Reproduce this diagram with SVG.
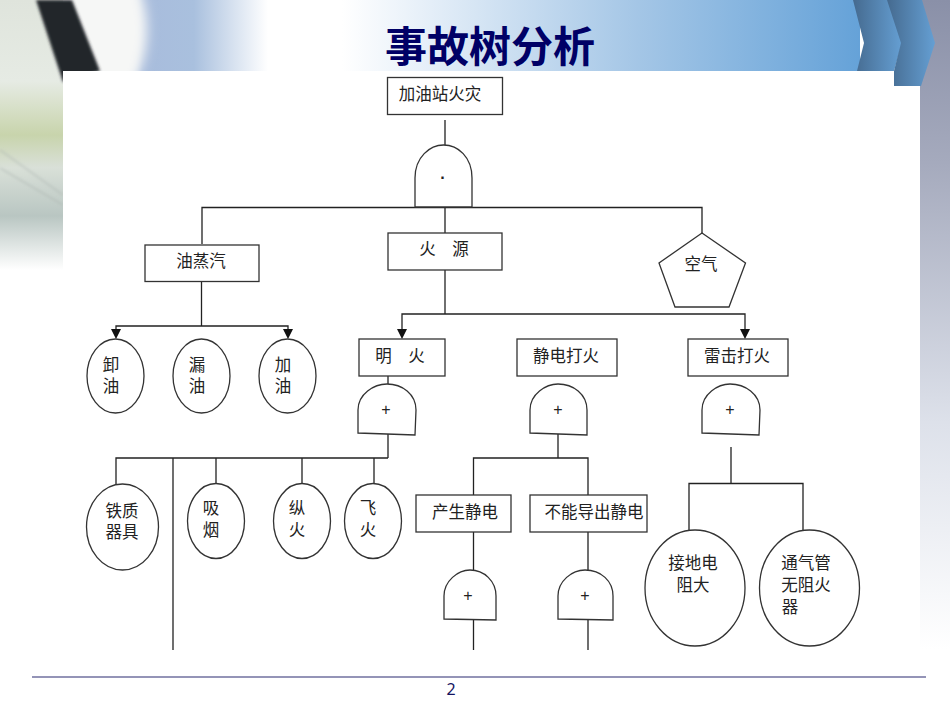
<svg xmlns="http://www.w3.org/2000/svg" width="950" height="713" viewBox="0 0 950 713">
<defs>
<linearGradient id="hdr" gradientUnits="userSpaceOnUse" x1="120" x2="860" y1="0" y2="0"><stop offset="0" stop-color="#f4f6f8"/><stop offset=".03" stop-color="#a8bcdc"/><stop offset=".1" stop-color="#a9c0de"/><stop offset=".2" stop-color="#fff"/><stop offset=".3" stop-color="#fff"/><stop offset=".42" stop-color="#e4eef8"/><stop offset=".7" stop-color="#a4c6e6"/><stop offset="1" stop-color="#65a2d8"/></linearGradient>
<linearGradient id="chev" x1="0" x2="1" y1="0" y2="0"><stop offset="0" stop-color="#456a8f"/><stop offset="1" stop-color="#659fd3"/></linearGradient>
<linearGradient id="side" x1="0" x2="0" y1="0" y2="1"><stop offset="0" stop-color="#8a90a8"/><stop offset=".25" stop-color="#a5aabd"/><stop offset=".65" stop-color="#dde1ea"/><stop offset="1" stop-color="#fff"/></linearGradient>
<linearGradient id="left" x1="0" x2="0" y1="0" y2="1"><stop offset="0" stop-color="#dfe4dc"/><stop offset=".3" stop-color="#e6ebe4"/><stop offset=".5" stop-color="#c8d4ac"/><stop offset=".62" stop-color="#d9e0d8"/><stop offset=".8" stop-color="#b9c6c2"/><stop offset="1" stop-color="#ffffff"/></linearGradient>
<filter id="soft" x="-20%" y="-20%" width="140%" height="140%"><feGaussianBlur stdDeviation="6"/></filter>
<filter id="soft2" x="-20%" y="-20%" width="140%" height="140%"><feGaussianBlur stdDeviation="1.500"/></filter>
<clipPath id="photo"><path d="M0 0H300V71H63V270H0Z"/></clipPath>
</defs>
<style>
.n{fill:#fff;stroke:#333;stroke-width:1.3}
.l{fill:none;stroke:#222;stroke-width:1.3}
.h{fill:#111}
.t{font-family:"Noto Sans CJK SC","Liberation Sans",sans-serif;font-size:16.500px;fill:#222;text-anchor:middle}
.s{font-family:"Liberation Sans",sans-serif;font-size:16px;fill:#222;text-anchor:middle}
</style>
<rect width="950" height="713" fill="#fff"/>
<g id="background">
<rect x="120" y="0" width="740" height="71" fill="url(#hdr)"/>
<g clip-path="url(#photo)">
<rect x="0" y="0" width="63" height="270" fill="url(#left)"/>
<ellipse cx="105" cy="30" rx="42" ry="70" fill="#f6f7f6" filter="url(#soft)"/>
<path d="M36 0H72L100 71L63 82Z" fill="#23262c" filter="url(#soft2)"/>
<path d="M0 150L63 195M0 168L63 205" stroke="#a9b2ae" fill="none" filter="url(#soft2)"/>
</g>
<rect x="920" y="0" width="30" height="650" fill="url(#side)"/>
<path d="M853 0H890L902 43L894 71H857L864 43Z" fill="url(#chev)"/>
<path d="M887 0H922L935 43L921 86H894V71L901 43Z" fill="url(#chev)"/>
<line x1="32" y1="677" x2="926" y2="677" stroke="#2a2a70" stroke-width="1.2"/>
<text x="451" y="695" font-family="'Noto Sans','Liberation Sans',sans-serif" font-size="16" fill="#14145f" text-anchor="middle">2</text>
<text x="490" y="62" font-family="'Noto Sans CJK SC','Liberation Sans',sans-serif" font-size="42" font-weight="700" fill="#000066" text-anchor="middle">事故树分析</text>
</g>
<g id="connectors">
<path class="l" d="M445 120V145M202 244V207.500H702V233M445 207V233"/>
<path class="l" d="M201.500 281V326"/>
<path class="l" d="M116 331V326H288V331"/>
<path class="h" d="M111 329H121L116 339ZM283 329H293L288 339Z"/>
<path class="l" d="M445 270V314"/>
<path class="l" d="M402 331V314H745V331"/>
<path class="h" d="M397 329H407L402 339ZM740 329H750L745 339Z"/>
<path class="l" d="M388 368V384M388 434V458M116 484V458H388M173 458V650M216 458V483M302 458V483M374 458V483"/>
<path class="l" d="M558 434V458M473.500 495V458H588V495M473.500 532V570M473.500 620V650M588 532V570M588 620V650"/>
<path class="l" d="M731 447V483M689 538V483.500H803V538"/>
</g>
<g id="n-top"><rect class="n" x="387.500" y="77.500" width="115" height="37"/><text class="t" x="440" y="100">加油站火灾</text></g>
<g id="n-and"><path class="n" d="M415 207V178C415 157 430 145 443.500 145C458 145 472 157 472 178V207Z"/><text class="s" x="443" y="183" font-weight="700">·</text></g>
<g id="n-vapor"><rect class="n" x="145" y="245" width="114" height="36.500"/><text class="t" x="201" y="267">油蒸汽</text></g>
<g id="n-fire"><rect class="n" x="388" y="233" width="114" height="37"/><text class="t" x="444" y="255">火　源</text></g>
<g id="n-air"><path class="n" d="M702 233L745.500 263L729 307H675L659 263Z"/><text class="t" x="701" y="270">空气</text></g>
<g id="n-e1"><ellipse class="n" cx="115.500" cy="376" rx="28.500" ry="37"/><text class="t"><tspan x="111" y="371">卸</tspan><tspan x="111" y="392">油</tspan></text></g>
<g id="n-e2"><ellipse class="n" cx="201.500" cy="376" rx="28.500" ry="37"/><text class="t"><tspan x="197" y="371">漏</tspan><tspan x="197" y="392">油</tspan></text></g>
<g id="n-e3"><ellipse class="n" cx="287.500" cy="376" rx="28.500" ry="37"/><text class="t"><tspan x="283" y="371">加</tspan><tspan x="283" y="392">油</tspan></text></g>
<g id="n-open"><rect class="n" x="359" y="339" width="86" height="37"/><text class="t" x="400" y="362">明　火</text></g>
<g id="n-static"><rect class="n" x="517" y="339" width="100" height="37"/><text class="t" x="566" y="362">静电打火</text></g>
<g id="n-thunder"><rect class="n" x="688" y="339" width="100" height="37"/><text class="t" x="737" y="362">雷击打火</text></g>
<g id="g-open"><path class="n" d="M358 433V410C358 394 374 384 387 384C402 384 416 394 416 410L415 435Z"/><text class="s" x="386" y="415">+</text></g>
<g id="g-static"><path class="n" d="M530 433V410C530 394 546 384 558 384C573 384 587 394 587 410V435Z"/><text class="s" x="558" y="415">+</text></g>
<g id="g-thunder"><path class="n" d="M702 433V410C702 394 718 384 730 384C745 384 760 394 760 410L759 435Z"/><text class="s" x="730" y="415">+</text></g>
<g id="n-iron"><ellipse class="n" cx="122.500" cy="527" rx="36" ry="43"/><text class="t"><tspan x="122" y="517">铁质</tspan><tspan x="122" y="538">器具</tspan></text></g>
<g id="n-smoke"><ellipse class="n" cx="216" cy="521" rx="28.500" ry="37.500"/><text class="t"><tspan x="211" y="514">吸</tspan><tspan x="211" y="536">烟</tspan></text></g>
<g id="n-arson"><ellipse class="n" cx="302" cy="521" rx="28.500" ry="37.500"/><text class="t"><tspan x="297" y="514">纵</tspan><tspan x="297" y="536">火</tspan></text></g>
<g id="n-fly"><ellipse class="n" cx="373" cy="521" rx="28.500" ry="37.500"/><text class="t"><tspan x="368" y="514">飞</tspan><tspan x="368" y="536">火</tspan></text></g>
<g id="n-gen"><rect class="n" x="416" y="495" width="95" height="37"/><text class="t" x="465" y="518">产生静电</text></g>
<g id="n-noderive"><rect class="n" x="530" y="495" width="117" height="37"/><text class="t" x="594" y="518">不能导出静电</text></g>
<g id="g-gen"><path class="n" d="M444 619V596C444 581 458 570 470 570C484 570 496 581 496 596V620Z"/><text class="s" x="468" y="601">+</text></g>
<g id="g-noderive"><path class="n" d="M558 619V596C558 581 572 570 585 570C601 570 613 581 613 596V620Z"/><text class="s" x="585" y="601">+</text></g>
<g id="n-ground"><ellipse class="n" cx="695" cy="588" rx="50" ry="58"/><text class="t"><tspan x="693" y="569">接地电</tspan><tspan x="693" y="591">阻大</tspan></text></g>
<g id="n-pipe"><ellipse class="n" cx="809.500" cy="588" rx="50" ry="58"/><text class="t"><tspan x="806" y="569">通气管</tspan><tspan x="806" y="591">无阻火</tspan><tspan x="790" y="613">器</tspan></text></g>
</svg>
